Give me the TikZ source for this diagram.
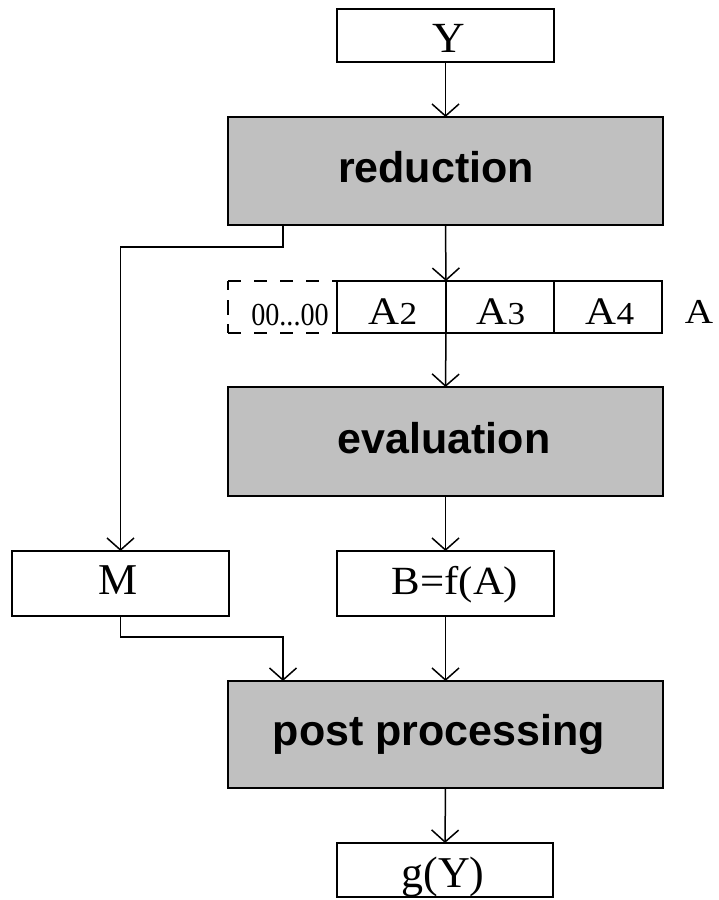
\documentclass[tikz,border=0pt]{standalone}
\usepackage{fontspec}
\setmainfont{Liberation Serif}
\setsansfont{Liberation Sans}
\usetikzlibrary{arrows.meta,calc}
\definecolor{boxgray}{RGB}{192,192,192}
\tikzset{
  lw/.style={line width=1.5pt},
  arr/.style={lw,-{Straight Barb[length=12pt,width=27pt,line width=1.5pt]}},
  plainbox/.style={draw,lw,fill=white,inner sep=0pt,outer sep=0pt,minimum width=#1},
  graybox/.style={draw,lw,fill=boxgray,inner sep=0pt,outer sep=0pt,minimum width=435pt,minimum height=108pt},
  serif/.style={inner sep=0pt,anchor=base,font=\fontsize{#1}{#1}\selectfont},
  bold/.style={inner sep=0pt,anchor=base,font=\fontsize{43}{43}\selectfont\sffamily\bfseries},
}
\begin{document}
\begin{tikzpicture}[x=1pt,y=-1pt]
\useasboundingbox (0,0) rectangle (718,900);
% boxes
\node[plainbox=217pt,minimum height=53pt] (ybox) at (445.5,35.5) {};
\node[graybox] (red) at (445.5,171) {};
\node[graybox,minimum height=109pt] (eval) at (445.5,441.5) {};
\node[graybox,minimum height=107pt] (pp) at (445.5,734.5) {};
\node[plainbox=217pt,minimum height=65pt] (mbox) at (120.5,583.5) {};
\node[plainbox=217pt,minimum height=65pt] (bbox) at (445.5,583.5) {};
\node[plainbox=216pt,minimum height=54pt] (gbox) at (445,870) {};
% A row
\coordinate (dtl) at (228,281);
\coordinate (dbl) at (228,333);
\coordinate (dtr) at (337,281);
\coordinate (dbr) at (337,333);
\draw[lw,dash pattern=on 13pt off 13pt] (dtl) -- (dtr);
\draw[lw,dash pattern=on 13pt off 13pt] (dbl) -- (dbr);
\draw[lw,dash pattern=on 9pt off 10pt on 15pt off 9pt on 9pt] (dtl) -- (dbl);
\node[plainbox=109pt,minimum height=52pt] (a2) at (391.5,307) {};
\node[plainbox=108pt,minimum height=52pt] (a3) at (500,307) {};
\node[plainbox=108pt,minimum height=52pt] (a4) at (608,307) {};
% texts
\node[serif=43] (ty) at (449,52) {\scalebox{1.05}[1]{Y}};
\node[bold] (tred) at (436,182) {reduction};
\node[serif=32] (tz) at (290,325) {\scalebox{0.88}[1]{00...00}};
\node[serif=39] (ta2) at (393,324) {\scalebox{1.1}[1]{A\fontsize{32}{32}\selectfont 2}};
\node[serif=39] (ta3) at (501,324) {\scalebox{1.1}[1]{A\fontsize{32}{32}\selectfont 3}};
\node[serif=39] (ta4) at (610,324) {\scalebox{1.1}[1]{A\fontsize{32}{32}\selectfont 4}};
\node[serif=35] (ta) at (699,323) {\scalebox{1.12}[1]{A}};
\node[bold] (teval) at (444,453) {evaluation};
\node[serif=44] (tm) at (118,594) {M};
\node[serif=40] (tb) at (455,594) {\scalebox{1.07}[1]{B=f(A)}};
\node[bold] (tpp) at (439,745) {post processing};
\node[serif=44] (tg) at (443,887) {g(Y)};
% connectors
\draw[arr] (ybox.south) -- (red.north);
\draw[arr] (red.south) -- (a2.north east);
\draw[arr] (a2.south east) -- (eval.north);
\draw[arr] (eval.south) -- (bbox.north);
\draw[arr] (bbox.south) -- (pp.north);
\draw[arr] (pp.south) -- (gbox.north);
\draw[arr] ([xshift=55pt]red.south west) -- ++(0,22) -| (mbox.north);
\draw[arr] (mbox.south) -- ++(0,21) -| ([xshift=55pt]pp.north west);
\end{tikzpicture}
\end{document}
